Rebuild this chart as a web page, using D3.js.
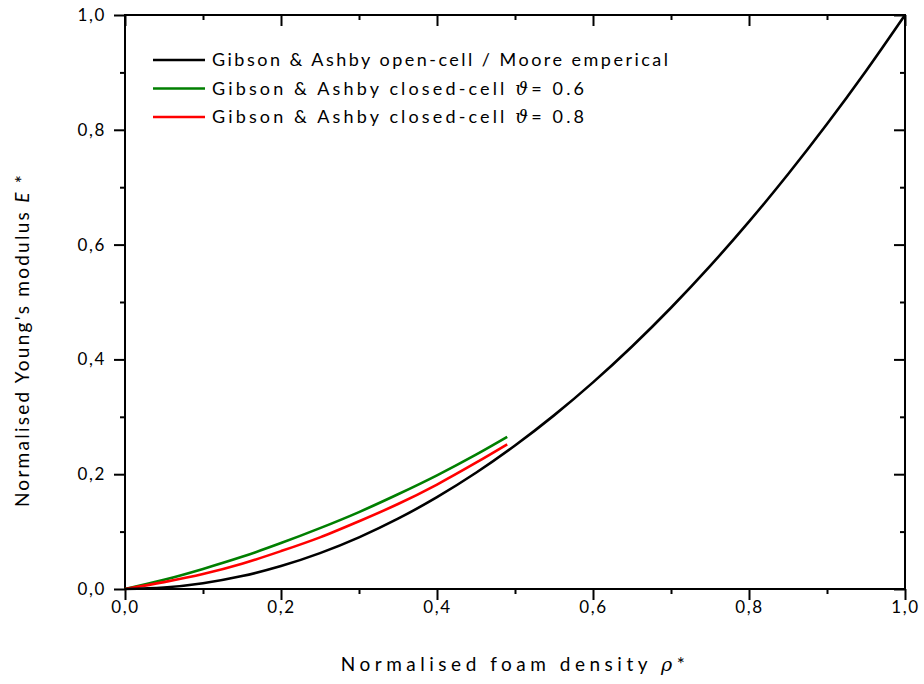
<!DOCTYPE html>
<html><head><meta charset="utf-8">
<script src="https://cdn.jsdelivr.net/npm/d3@7"></script>
<style>
body{margin:0;background:#fff;}
text{font-family:Lato,"Open Sans",sans-serif;fill:#000;}
</style></head>
<body><svg id="c" width="924" height="684"></svg>
<script>
// ---- data ----
const rhoOpen = [0,0.05,0.1,0.15,0.2,0.25,0.3,0.35,0.4,0.45,0.5,0.55,0.6,0.65,0.7,0.75,0.8,0.85,0.9,0.95,1.0];
const eOpen   = [0,0.0025,0.010,0.0225,0.040,0.0625,0.090,0.1225,0.160,0.2025,0.250,0.3025,0.360,0.4225,0.490,0.5625,0.640,0.7225,0.810,0.9025,1.0];
const rhoClosed = [0,0.05,0.1,0.15,0.2,0.25,0.3,0.35,0.4,0.45,0.49];
const eClosed06 = [0,0.016,0.035,0.056,0.080,0.106,0.134,0.165,0.198,0.234,0.265];
const eClosed08 = [0,0.012,0.026,0.044,0.066,0.090,0.118,0.148,0.182,0.220,0.252];
const xTicks = [0,0.2,0.4,0.6,0.8,1.0];
const yTicks = [0,0.2,0.4,0.6,0.8,1.0];
const minorTicks = [0.1,0.3,0.5,0.7,0.9];
const seriesNames = ["Gibson & Ashby open-cell / Moore emperical","Gibson & Ashby closed-cell ","Gibson & Ashby closed-cell "];
const seriesSuffix = ["","= 0.6","= 0.8"];
const seriesColors = ["#000000","#007f00","#ff0000"];

const svg = d3.select("#c");
const L=125, T=15, W=780, H=574;
const x = d3.scaleLinear().domain([0,1]).range([L,L+W]);
const y = d3.scaleLinear().domain([0,1]).range([T+H,T]);
const fmt = d => d3.format(".1f")(d).replace(".",",");

// axes
const big=11, small=5;
const gB = svg.append("g").attr("transform",`translate(0,${T+H})`)
  .call(d3.axisBottom(x).tickValues(xTicks).tickSize(big).tickFormat(fmt).tickSizeOuter(0));
const gBm = svg.append("g").attr("transform",`translate(0,${T+H})`)
  .call(d3.axisBottom(x).tickValues(minorTicks).tickSize(small).tickFormat("").tickSizeOuter(0));
const gT = svg.append("g").attr("transform",`translate(0,${T})`)
  .call(d3.axisBottom(x).tickValues(xTicks).tickSize(big).tickFormat("").tickSizeOuter(0));
const gTm = svg.append("g").attr("transform",`translate(0,${T})`)
  .call(d3.axisBottom(x).tickValues(minorTicks).tickSize(small).tickFormat("").tickSizeOuter(0));
const gL = svg.append("g").attr("transform",`translate(${L},0)`)
  .call(d3.axisLeft(y).tickValues(yTicks).tickSize(big).tickFormat(fmt).tickSizeOuter(0));
const gLm = svg.append("g").attr("transform",`translate(${L},0)`)
  .call(d3.axisLeft(y).tickValues(minorTicks).tickSize(small).tickFormat("").tickSizeOuter(0));
const gR = svg.append("g").attr("transform",`translate(${L+W},0)`)
  .call(d3.axisLeft(y).tickValues(yTicks).tickSize(big).tickFormat("").tickSizeOuter(0));
const gRm = svg.append("g").attr("transform",`translate(${L+W},0)`)
  .call(d3.axisLeft(y).tickValues(minorTicks).tickSize(small).tickFormat("").tickSizeOuter(0));
[gB,gBm,gT,gTm,gL,gLm,gR,gRm].forEach(g=>{
  g.selectAll(".domain").remove();
  g.selectAll("line").attr("stroke","#000").attr("stroke-width",2);
});
gB.selectAll("text").attr("font-size",17).attr("dy","0.6em").attr("y",14).attr("letter-spacing","1.6px").attr("fill","#111");
gL.selectAll("text").attr("font-size",17).attr("x",-19).attr("letter-spacing","1.6px").attr("fill","#111");

svg.append("rect").attr("x",L).attr("y",T).attr("width",W).attr("height",H)
  .attr("fill","none").attr("stroke","#000").attr("stroke-width",2);

// lines
const line = d3.line().x(d=>x(d[0])).y(d=>y(d[1])).curve(d3.curveMonotoneX);
const series = [
  d3.zip(rhoOpen,eOpen),
  d3.zip(rhoClosed,eClosed06),
  d3.zip(rhoClosed,eClosed08)
];
[1,2,0].forEach(i=>{
  svg.append("path").datum(series[i]).attr("d",line)
    .attr("fill","none").attr("stroke",seriesColors[i]).attr("stroke-width",2.6);
});

// legend
const rows=[60,88.5,117];
const targets=[456,372,372];
seriesNames.forEach((n,i)=>{
  svg.append("line").attr("x1",153).attr("x2",205).attr("y1",rows[i]).attr("y2",rows[i])
    .attr("stroke",seriesColors[i]).attr("stroke-width",2.6);
  const t = svg.append("text").attr("x",212).attr("y",rows[i]).attr("dy","0.36em").attr("font-size",18);
  t.append("tspan").text(n);
  if(i>0){
    t.append("tspan").attr("font-style","italic").attr("font-family","'DejaVu Serif',serif").text("\u03D1");
    t.append("tspan").text(seriesSuffix[i]);
  }
  const w = t.node().getComputedTextLength();
  const nch = t.text().length;
  t.attr("letter-spacing", ((targets[i]-w)/(nch-1))+"px");
});

// axis titles
const xt = svg.append("text").attr("x",L+W/2).attr("y",664).attr("dy","0.36em")
  .attr("text-anchor","middle").attr("font-size",19);
xt.append("tspan").text("Normalised foam density ");
xt.append("tspan").attr("font-style","italic").attr("font-family","'DejaVu Serif',serif").text("\u03C1");
xt.append("tspan").text("*");
{
  const w=xt.node().getComputedTextLength(), n=xt.text().length;
  xt.attr("letter-spacing",((344-w)/(n-1))+"px");
}
const yt = svg.append("text").attr("transform",`translate(22,340) rotate(-90)`).attr("dy","0.36em")
  .attr("text-anchor","middle").attr("font-size",19);
yt.append("tspan").text("Normalised Young's modulus ");
yt.append("tspan").attr("font-style","italic").text("E");
yt.append("tspan").text(" *");
{
  const w=yt.node().getComputedTextLength(), n=yt.text().length;
  yt.attr("letter-spacing",((332-w)/(n-1))+"px");
}
</script></body></html>
